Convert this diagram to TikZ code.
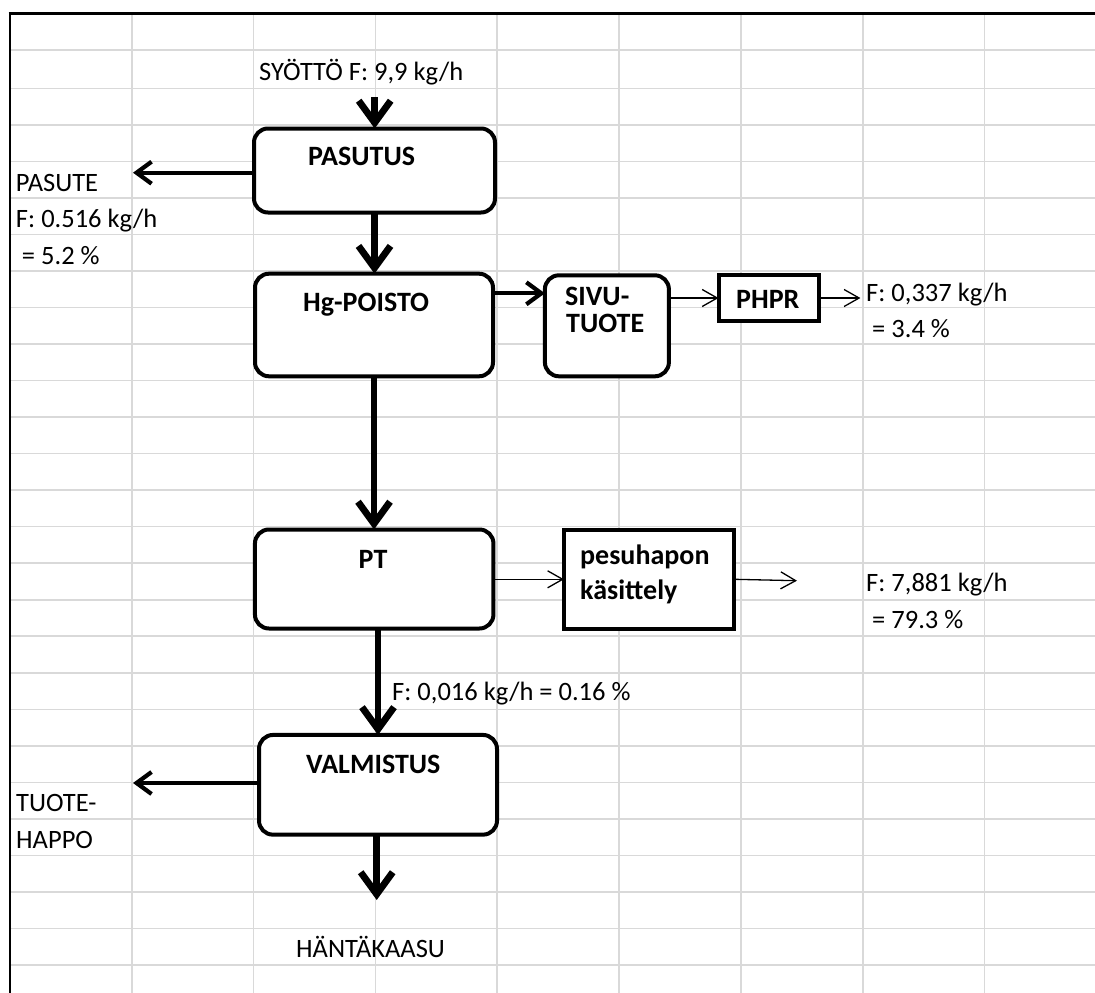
\documentclass[tikz,border=0pt]{standalone}
\usepackage{fontspec}
\setmainfont{Carlito}
\usetikzlibrary{arrows.meta}
\definecolor{gridgrey}{HTML}{D9D9D9}
\newcommand\diagfont{\fontsize{26.5}{30}\selectfont}
\newcommand\diagboldfont{\fontsize{28}{32}\selectfont\bfseries}
\begin{document}
\begin{tikzpicture}[x=1pt,y=-1pt,
  gridline/.style={draw=gridgrey, line width=1.6pt},
  frameline/.style={draw=black, line width=2.6pt},
  proc/.style={draw, line width=4pt, rounded corners=14pt, fill=white,
    inner sep=0pt, outer sep=0pt},
  plainbox/.style={draw, line width=4pt, fill=white, inner sep=0pt, outer sep=0pt},
  lbl/.style={inner sep=0pt, anchor=base west, font=\diagfont},
  boxlbl/.style={inner sep=0pt, anchor=base west, font=\diagboldfont},
  heavy/.style={line width=6.8pt, -{Straight Barb[length=22pt,width=32pt]}},
  medium/.style={line width=4.2pt, -{Straight Barb[length=15pt,width=22pt]}},
  light/.style={line width=1.3pt, -{Straight Barb[length=15pt,width=17pt]}}
]
% page and spreadsheet grid
\useasboundingbox (0,0) rectangle (1095,993);
\fill[white] (0,0) rectangle (1095,993);
\draw[gridline] (10,50) -- (1095,50);
\foreach \k in {0,...,24}
  \draw[gridline] (10,{88.3+36.53*\k}) -- (1095,{88.3+36.53*\k});
\foreach \k in {0,...,7}
  \draw[gridline] ({131.7+121.85*\k},14) -- ({131.7+121.85*\k},993);
\draw[frameline] (8.7,13.5) -- (1095,13.5);
\draw[frameline] (10,12.2) -- (10,993);

% process blocks
\node[proc, minimum width=241pt, minimum height=84pt] (pasutus) at (374.5,170.5) {};
\node[proc, minimum width=238pt, minimum height=102.6pt] (hg) at (374,325) {};
\node[proc, minimum width=124pt, minimum height=101pt] (sivu) at (606.9,325.8) {};
\node[plainbox, minimum width=100pt, minimum height=46.6pt] (phpr) at (768.5,298) {};
\node[proc, minimum width=238.5pt, minimum height=99pt] (pt) at (374.2,579) {};
\node[plainbox, minimum width=170.5pt, minimum height=99.3pt] (pesu) at (649.2,579.3) {};
\node[proc, minimum width=238pt, minimum height=99.7pt] (valm) at (378,784.8) {};

% block titles
\node[boxlbl] (tPasutus) at (308,165.5) {PASUTUS};
\node[boxlbl] (tHg) at (303,311.7) {Hg-POISTO};
\node[boxlbl] (tSivu1) at (565,305) {SIVU-};
\node[boxlbl] (tSivu2) at (566,332) {TUOTE};
\node[boxlbl] (tPhpr) at (736,308.3) {PHPR};
\node[boxlbl] (tPt) at (358.5,568) {PT};
\node[boxlbl] (tPesu1) at (580,564) {pesuhapon};
\node[boxlbl] (tPesu2) at (580,599) {käsittely};
\node[boxlbl] (tValm) at (306,773.5) {VALMISTUS};

% stream labels
\node[lbl] (feedTxt) at (259,80) {SYÖTTÖ F: 9,9 kg/h};
\node[lbl] (pasute1) at (15.8,191) {PASUTE};
\node[lbl] (pasute2) at (15.8,227) {F: 0.516 kg/h};
\node[lbl] (pasute3) at (15.8,264) {\ = 5.2 \%};
\node[lbl] (phpr1) at (866,301) {F: 0,337 kg/h};
\node[lbl] (phpr2) at (866,337) {\ = 3.4 \%};
\node[lbl] (pesu1) at (866,591.7) {F: 7,881 kg/h};
\node[lbl] (pesu2) at (866,628) {\ = 79.3 \%};
\node[lbl] (ptFlow) at (392,700) {F: 0,016 kg/h = 0.16 \%};
\node[lbl] (acid1) at (16,811) {TUOTE-};
\node[lbl] (acid2) at (16,848) {HAPPO};
\node[lbl] (tailTxt) at (296,957) {HÄNTÄKAASU};

% free ends of the streams
\coordinate (feedTop) at (374.7,97);
\coordinate (tailEnd) at (376.7,900);
\coordinate (pasuteEnd) at (133,172.7);
\coordinate (acidEnd) at (133,783);
\coordinate (sideRow) at (0,293.3);
\coordinate (phprOut) at (860.4,298);
\coordinate (pesuOut) at (797,580.7);

% main line
\draw[heavy] (feedTop) -- (feedTop |- pasutus.north);
\draw[heavy] (pasutus.south) -- (pasutus.south |- hg.north);
\draw[heavy] (hg.south) -- (hg.south |- pt.north);
\draw[heavy] (valm.north |- pt.south) -- (valm.north);
\draw[heavy] (valm.south -| tailEnd) -- (tailEnd);

% side streams
\draw[medium] (pasutus.west |- pasuteEnd) -- (pasuteEnd);
\draw[medium] (valm.west |- acidEnd) -- (acidEnd);
\draw[medium] (hg.east |- sideRow) -- (sivu.west |- sideRow);
\draw[light] (sivu.east |- phpr.west) -- (phpr.west);
\draw[light] (phpr.east) -- (phprOut);
\draw[light] (pt.east |- pesu.west) -- (pesu.west);
\draw[light] (pesu.east) -- (pesuOut);
\end{tikzpicture}
\end{document}
